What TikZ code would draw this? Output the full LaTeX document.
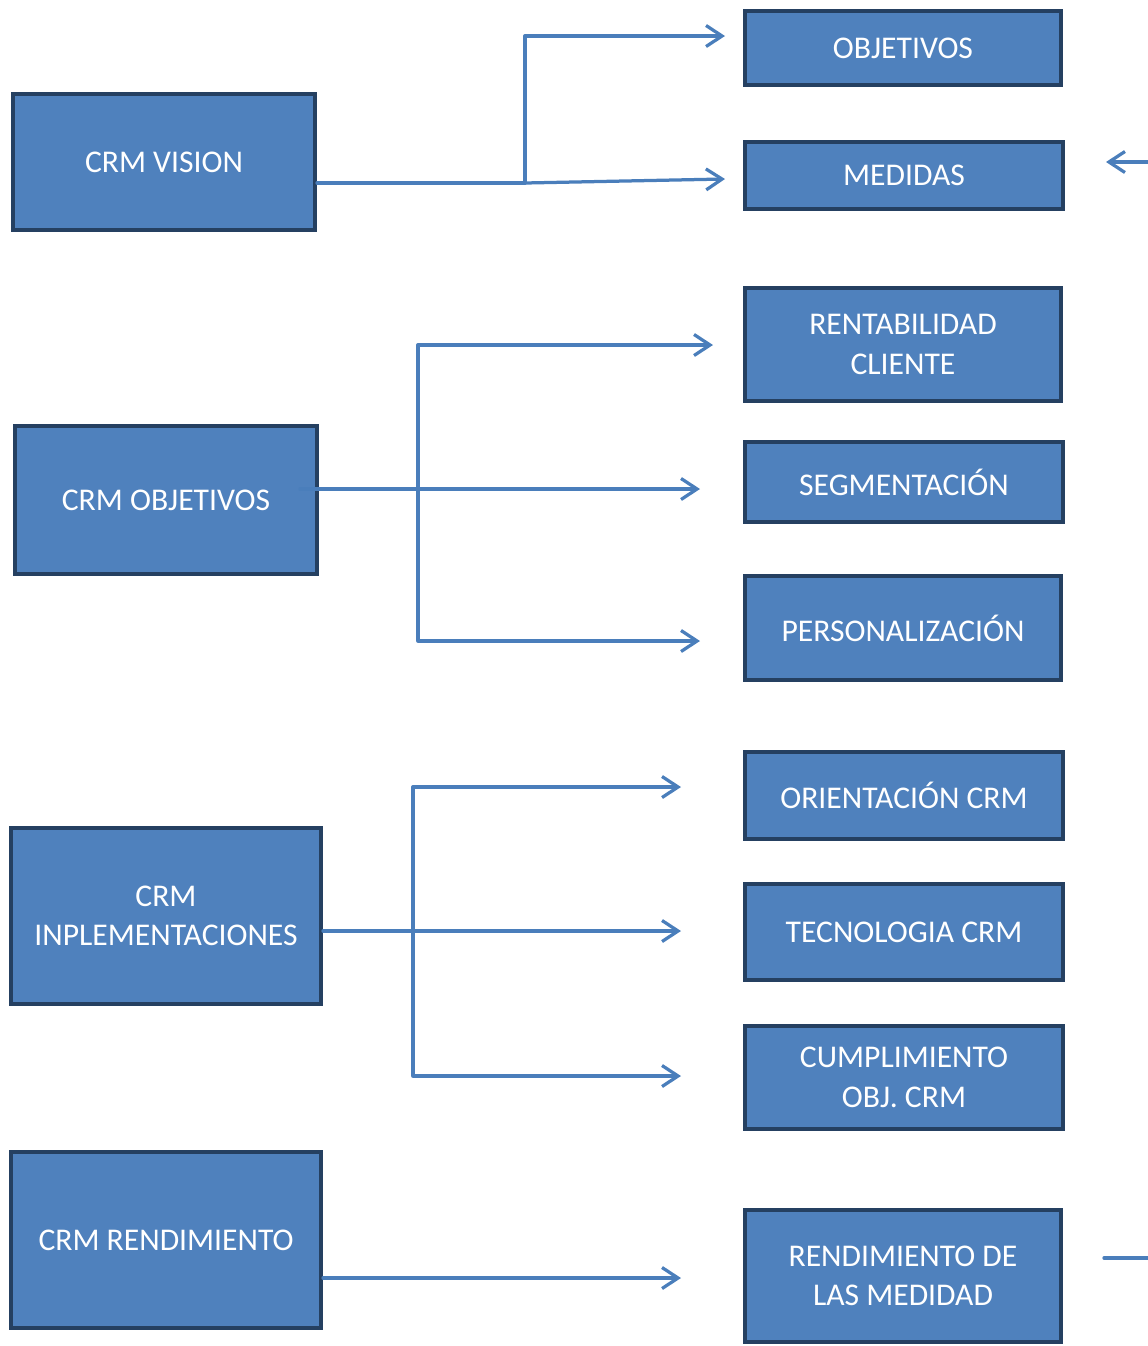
\documentclass[tikz,border=0pt]{standalone}
\usepackage{fontspec}
\setmainfont{Carlito}
\usetikzlibrary{arrows.meta}
\definecolor{boxfill}{HTML}{4F81BD}
\definecolor{boxline}{HTML}{254061}
\definecolor{linkcol}{HTML}{4A7EBB}
\tikzstyle{every node}=[font=\fontsize{18}{22.5}\selectfont,text=white,align=center]
\tikzstyle{crmbox}=[draw=boxline,fill=boxfill,line width=0.08cm,inner sep=0pt]
\tikzstyle{link}=[draw=linkcol,line width=0.065cm,line cap=round,line join=round]
\tikzstyle{tip}=[-{Straight Barb[length=0.32cm,width=0.42cm]}]

\begin{document}
\begin{tikzpicture}[x=0.02cm,y=-0.02cm]
    \useasboundingbox (0,0) rectangle (1148,1346);

    % Left column
    \node[crmbox,minimum width=6.04cm,minimum height=2.72cm] (vision) at (164,162) {CRM VISION};
    \node[crmbox,minimum width=6.04cm,minimum height=2.98cm] (objetivos) at (166,500) {CRM OBJETIVOS};
    \node[crmbox,minimum width=6.20cm,minimum height=3.52cm] (implem) at (166,916) {CRM\\INPLEMENTACIONES};
    \node[crmbox,minimum width=6.20cm,minimum height=3.52cm] (rendim) at (166,1240) {CRM RENDIMIENTO};

    % Right column
    \node[crmbox,minimum width=6.32cm,minimum height=1.48cm] (obj) at (903,48) {OBJETIVOS};
    \node[crmbox,minimum width=6.36cm,minimum height=1.34cm] (medidas) at (904,175.5) {MEDIDAS};
    \node[crmbox,minimum width=6.32cm,minimum height=2.26cm] (rentab) at (903,344.5) {RENTABILIDAD\\CLIENTE};
    \node[crmbox,minimum width=6.36cm,minimum height=1.60cm] (segment) at (904,482) {SEGMENTACIÓN};
    \node[crmbox,minimum width=6.32cm,minimum height=2.08cm] (persona) at (903,628) {PERSONALIZACIÓN};
    \node[crmbox,minimum width=6.36cm,minimum height=1.74cm] (orient) at (904,795.5) {ORIENTACIÓN CRM};
    \node[crmbox,minimum width=6.36cm,minimum height=1.92cm] (tecno) at (904,932) {TECNOLOGIA CRM};
    \node[crmbox,minimum width=6.36cm,minimum height=2.06cm] (cumpl) at (904,1077.5) {CUMPLIMIENTO\\OBJ. CRM};
    \node[crmbox,minimum width=6.32cm,minimum height=2.64cm] (rendmed) at (903,1276) {RENDIMIENTO DE\\LAS MEDIDAD};

    % Define named coordinates
    \coordinate (visJ) at (525,183);
    \coordinate (objTip) at (725,36);
    \coordinate (medTip) at (725,179);
    \coordinate (objJ) at (418,489);
    \coordinate (rentTip) at (713,345);
    \coordinate (segTip) at (700,489);
    \coordinate (persTip) at (700,641);
    \coordinate (impJ) at (413,931);
    \coordinate (oriTip) at (681,787);
    \coordinate (tecTip) at (681,931);
    \coordinate (cumTip) at (681,1076);
    \coordinate (renTip) at (681,1278);
    \coordinate (stubA) at (1148,162);
    \coordinate (stubAtip) at (1106,162);
    \coordinate (stubB) at (1104,1258);
    \coordinate (stubBend) at (1148,1258);

    % CRM VISION links
    \draw[link] (visJ -| vision.east) -- (visJ);
    \draw[link,tip] (visJ) |- (objTip);
    \draw[link,tip] (visJ) -- (medTip);

    % CRM OBJETIVOS links
    \draw[link,tip] ([xshift=-0.38cm]segTip -| objetivos.east) -- (segTip);
    \draw[link,tip] (objJ) |- (rentTip);
    \draw[link,tip] (objJ) |- (persTip);

    % CRM INPLEMENTACIONES links
    \draw[link,tip] (tecTip -| implem.east) -- (tecTip);
    \draw[link,tip] (impJ) |- (oriTip);
    \draw[link,tip] (impJ) |- (cumTip);

    % CRM RENDIMIENTO link
    \draw[link,tip] (renTip -| rendim.east) -- (renTip);

    % Stubs at the right edge
    \draw[link,tip] (stubA) -- (stubAtip);
    \draw[link] (stubB) -- (stubBend);
\end{tikzpicture}
\end{document}
